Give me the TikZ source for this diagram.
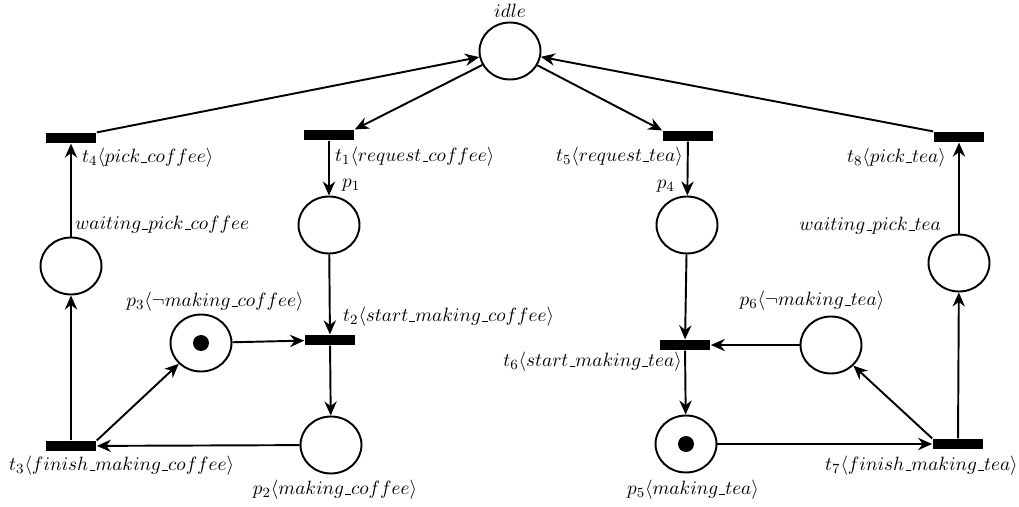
\documentclass[tikz,border=0pt]{standalone}
\usetikzlibrary{arrows.meta,shapes.geometric}
\newcommand{\us}{\kern.06em\vbox{\hrule width.3em}}
\begin{document}
\begin{tikzpicture}[x=0.02cm,y=-0.02cm,font=\fontsize{11.1}{13}\selectfont]
\tikzstyle{place} = [ellipse, draw, line width=1.1pt, minimum width=1.22cm, minimum height=1.14cm, inner sep=0pt]
\tikzstyle{transition} = [rectangle, fill=black, minimum width=1.02cm, minimum height=0.21cm, inner sep=0pt]
\tikzstyle{token} = [circle, fill=black, minimum size=0.32cm, inner sep=0pt]
\tikzstyle{arrow} = [line width=1.1pt,-{Stealth[length=8pt,width=7pt]}]

\useasboundingbox (0,0) rectangle (1019,507);

% places
\node (idle) [place] at (510,51) {};
\node (p1) [place] at (329,225) {};
\node (p2) [place] at (331,445) {};
\node (p3) [place] at (201,343) {};
\node (wcoffee) [place] at (71,266) {};
\node (p4) [place] at (687,225) {};
\node (p5) [place] at (686,444) {};
\node (p6) [place] at (831,345) {};
\node (wtea) [place] at (959,263) {};
\node (tok3) [token] at (p3) {};
\node (tok5) [token] at (p5) {};

% transitions
\node (t1) [transition] at (329,135) {};
\node (t2) [transition] at (330,340) {};
\node (t3) [transition] at (71,446) {};
\node (t4) [transition] at (71,138) {};
\node (t5) [transition] at (688,136) {};
\node (t6) [transition] at (685,345) {};
\node (t7) [transition] at (958,444) {};
\node (t8) [transition] at (959,137) {};

% labels
\node (lidle) at (510,11) {$idle$};
\node (lt1) [anchor=west] at (329,157) {$t_1\langle request\us coffee\rangle$};
\node (lp1) [anchor=west] at (336,185) {$p_1$};
\node (lt2) [anchor=west] at (337,317) {$t_2\langle start\us making\us coffee\rangle$};
\node (lp2) at (335,490) {$p_2\langle making\us coffee\rangle$};
\node (lp3) at (215,302) {$p_3\langle \neg making\us coffee\rangle$};
\node (lt3) [anchor=west] at (3,466) {$t_3\langle finish\us making\us coffee\rangle$};
\node (lt4) [anchor=west] at (76,158) {$t_4\langle pick\us coffee\rangle$};
\node (lwc) [anchor=west] at (69,225) {$waiting\us pick\us coffee$};
\node (lt5) [anchor=east] at (689,157) {$t_5\langle request\us tea\rangle$};
\node (lp4) [anchor=east] at (681,186) {$p_4$};
\node (lt6) [anchor=east] at (688,362) {$t_6\langle start\us making\us tea\rangle$};
\node (lp5) at (693,490) {$p_5\langle making\us tea\rangle$};
\node (lp6) at (812,301) {$p_6\langle \neg making\us tea\rangle$};
\node (lt7) [anchor=west] at (819,466) {$t_7\langle finish\us making\us tea\rangle$};
\node (lt8) [anchor=east] at (952,158) {$t_8\langle pick\us tea\rangle$};
\node (lwt) [anchor=east] at (947,226) {$waiting\us pick\us tea$};

% arcs
\draw [arrow] (idle) -- (t1.north east);
\draw [arrow] (t1) -- (p1);
\draw [arrow] (p1) -- (t2);
\draw [arrow] (p3) -- (t2);
\draw [arrow] (t2) -- (p2);
\draw [arrow] (p2) -- (t3);
\draw [arrow] (t3.north east) -- (p3);
\draw [arrow] (t3) -- (wcoffee);
\draw [arrow] (wcoffee) -- (t4);
\draw [arrow] (t4.north east) -- (idle);
\draw [arrow] (idle) -- (t5.north west);
\draw [arrow] (t5) -- (p4);
\draw [arrow] (p4) -- (t6);
\draw [arrow] (p6) -- (t6);
\draw [arrow] (t6) -- (p5);
\draw [arrow] (p5) -- (t7);
\draw [arrow] (t7.north west) -- (p6);
\draw [arrow] (t7) -- (wtea);
\draw [arrow] (wtea) -- (t8);
\draw [arrow] (t8.north west) -- (idle);
\end{tikzpicture}
\end{document}
